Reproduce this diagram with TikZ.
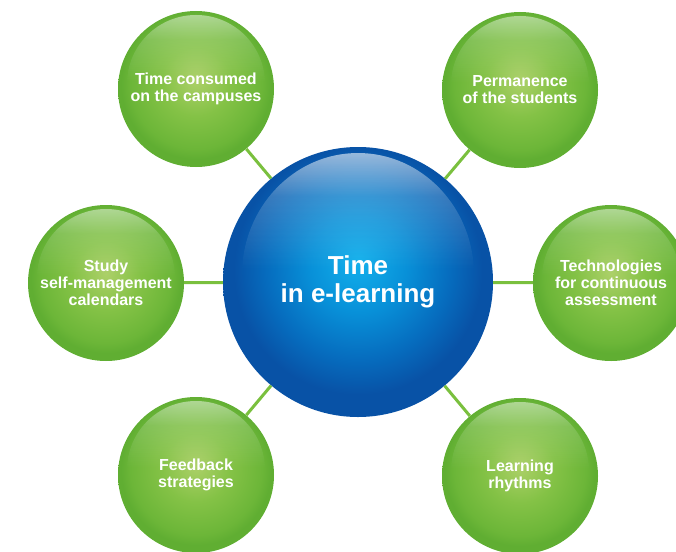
\documentclass[tikz,border=0pt]{standalone}
\usepackage{fontspec}
\setmainfont{Liberation Sans}
\usetikzlibrary{fadings}

\definecolor{gLight}{RGB}{172,208,104}
\definecolor{gMid}{RGB}{132,194,70}
\definecolor{gEdge}{RGB}{108,182,56}
\definecolor{gRim}{RGB}{96,174,50}
\definecolor{bLight}{RGB}{18,176,236}
\definecolor{bMid}{RGB}{8,144,216}
\definecolor{bEdge}{RGB}{6,108,190}
\definecolor{bRim}{RGB}{8,82,166}
\definecolor{lineGreen}{RGB}{122,192,62}

\pgfdeclareradialshading{greenball}{\pgfpoint{0bp}{3bp}}{color(0bp)=(gLight); color(11bp)=(gMid); color(21bp)=(gEdge); color(24bp)=(gRim); color(25bp)=(gRim); color(50bp)=(gRim)}
\pgfdeclareradialshading{blueball}{\pgfpoint{0bp}{4bp}}{color(0bp)=(bLight); color(9bp)=(bMid); color(17bp)=(bEdge); color(23bp)=(bRim); color(25bp)=(bRim); color(50bp)=(bRim)}

\pgfdeclareverticalshading{glossshade}{100bp}{color(0bp)=(black); color(25bp)=(black); color(52bp)=(black); color(64bp)=(black!75!white); color(75bp)=(white); color(100bp)=(white)}

\begin{tikzfadingfrompicture}[name=glossfade]
  \shade[shading=glossshade] (-1,-1) rectangle (1,1);
\end{tikzfadingfrompicture}

\tikzset{
  sat/.style={circle, minimum size=156pt, inner sep=0pt, shading=greenball,
    text=white, align=center, font=\bfseries\fontsize{16}{17}\selectfont,
    path picture={\fill[white, fill opacity=0.65, path fading=glossfade]
      ([yshift=-73pt]path picture bounding box.north) circle (69pt);}},
  hub/.style={circle, minimum size=270pt, inner sep=0pt, shading=blueball,
    text=white, align=center, font=\bfseries\fontsize{26}{28}\selectfont,
    path picture={\fill[white, fill opacity=0.8, path fading=glossfade]
      ([yshift=-128pt]path picture bounding box.north) ellipse (116pt and 122pt);}},
  conn/.style={draw=lineGreen, line width=3pt}
}

\begin{document}
\begin{tikzpicture}[x=1pt, y=-1pt]
\useasboundingbox (0,0) rectangle (676,551);
\node[hub] (hub) at (358,282) {Time\\in e-learning};
\node[sat] (tl) at (196,89) {Time consumed\\on the campuses};
\node[sat] (tr) at (520,90) {Permanence\\of the students};
\node[sat] (l) at (106,283) {Study\\self-management\\calendars};
\node[sat] (r) at (611,283) {Technologies\\for continuous\\assessment};
\node[sat] (bl) at (196,475) {Feedback\\strategies};
\node[sat] (br) at (520,476) {Learning\\rhythms};
\draw[conn] (hub) -- (tl);
\draw[conn] (hub) -- (tr);
\draw[conn] (hub) -- (l);
\draw[conn] (hub) -- (r);
\draw[conn] (hub) -- (bl);
\draw[conn] (hub) -- (br);
\end{tikzpicture}
\end{document}
